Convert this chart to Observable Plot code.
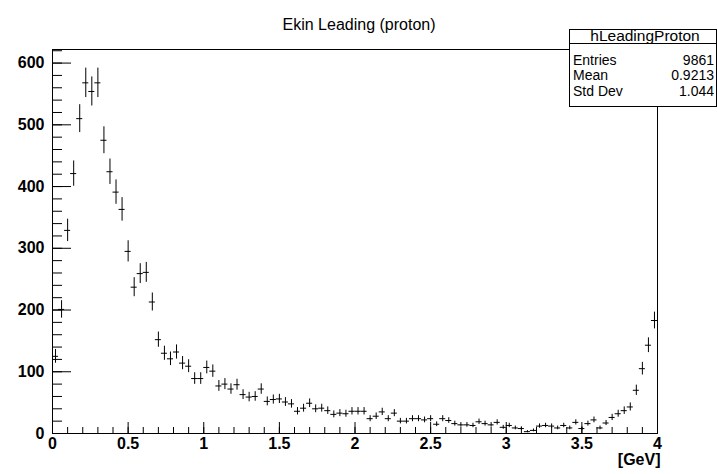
<!DOCTYPE html>
<html><head><meta charset="utf-8">
<script src="https://cdn.jsdelivr.net/npm/d3@7"></script>
<script src="https://cdn.jsdelivr.net/npm/@observablehq/plot@0.6"></script>
<style>
body{margin:0;background:#fff;}
svg{font-family:"Liberation Sans",Arial,Helvetica,sans-serif;}
</style>
</head><body><div id="chart"></div>
<script>
// Histogram hLeadingProton: 100 bins from 0 to 4 GeV
const title = "Ekin Leading (proton)";
const histName = "hLeadingProton";
const xMin = 0, xMax = 4, nBins = 100;
const counts = [
  125, 201, 329, 421, 510, 568, 554, 568, 475, 424,
  391, 363, 295, 237, 259, 261, 213, 152, 130, 121,
  132, 114, 109, 89, 89, 107, 101, 77, 80, 72,
  79, 63, 59, 60, 72, 52, 55, 56, 51, 48,
  36, 41, 49, 40, 41, 37, 31, 33, 32, 36,
  36, 36, 24, 28, 35, 24, 33, 20, 20, 24,
  24, 22, 24, 15, 24, 21, 16, 14, 14, 13,
  19, 16, 14, 18, 10, 13, 9, 8, 3, 5,
  12, 13, 12, 9, 13, 9, 18, 8, 16, 22,
  9, 17, 26, 32, 37, 43, 70, 105, 143, 183
];
const yMaxAxis = 622;
const yTicks = [0, 100, 200, 300, 400, 500, 600];
const yMinorTicks = [0,20,40,60,80,100,120,140,160,180,200,220,240,260,280,300,320,340,360,380,400,420,440,460,480,500,520,540,560,580,600,620];
const xTicks = [0, 0.5, 1, 1.5, 2, 2.5, 3, 3.5, 4];
const xTickLabels = ["0", "0.5", "1", "1.5", "2", "2.5", "3", "3.5", "4"];
const xMinorTicks = [0,0.1,0.2,0.3,0.4,0.5,0.6,0.7,0.8,0.9,1,1.1,1.2,1.3,1.4,1.5,1.6,1.7,1.8,1.9,2,2.1,2.2,2.3,2.4,2.5,2.6,2.7,2.8,2.9,3,3.1,3.2,3.3,3.4,3.5,3.6,3.7,3.8,3.9,4];
const xUnit = "[GeV]";
const statNames = ["Entries", "Mean", "Std Dev"];
const statValues = ["9861", "0.9213", "1.044"];

const binW = (xMax - xMin) / nBins;
const rows = counts.map((n, i) => ({
  lo: xMin + i * binW,
  hi: xMin + (i + 1) * binW,
  c: xMin + (i + 0.5) * binW,
  n,
  e: Math.sqrt(n)
}));

const plot = Plot.plot({
  width: 717,
  height: 474,
  marginLeft: 52,
  marginRight: 60,
  marginTop: 49,
  marginBottom: 41,
  style: {fontSize: "16px", fontWeight: "bold", background: "#fff", color: "#000"},
  x: {domain: [xMin, xMax]},
  y: {domain: [0, yMaxAxis]},
  marks: [
    Plot.ruleY(rows, {y: "n", x1: "lo", x2: "hi", stroke: "#000", strokeWidth: 1}),
    Plot.ruleX(rows, {x: "c", y1: d => d.n - d.e, y2: d => d.n + d.e, stroke: "#000", strokeWidth: 1}),
    Plot.axisY({anchor: "left", ticks: yMinorTicks, tickSize: -10, tickFormat: () => "", label: null}),
    Plot.axisY({anchor: "left", ticks: yTicks, tickSize: -19, tickPadding: 27, tickFormat: d => String(d), label: null, fontSize: 16, fontWeight: "bold"}),
    Plot.axisX({anchor: "bottom", ticks: xMinorTicks, tickSize: -6, tickFormat: () => "", label: null}),
    Plot.axisX({anchor: "bottom", ticks: xTicks, tickSize: -11, tickPadding: 15, tickFormat: d => xTickLabels[xTicks.indexOf(d)], label: null, fontSize: 16, fontWeight: "bold"}),
    Plot.frame({stroke: "#000", strokeWidth: 1}),
    Plot.text([title], {frameAnchor: "top", dx: 4, dy: -31, fontSize: 16, fontWeight: "normal"}),
    Plot.text([xUnit], {frameAnchor: "bottom-right", dx: 3, dy: 31, textAnchor: "end", fontSize: 16, fontWeight: "bold"})
  ]
});

document.getElementById("chart").appendChild(plot);

// statistics box (ROOT style)
const svg = d3.select(plot);
const box = svg.append("g").attr("font-weight", "normal").attr("font-size", 14);
box.append("rect").attr("x", 569.5).attr("y", 29.5).attr("width", 147).attr("height", 77)
  .attr("fill", "#fff").attr("stroke", "#000");
box.append("line").attr("x1", 569.5).attr("x2", 716.5).attr("y1", 43.5).attr("y2", 43.5).attr("stroke", "#000");
box.append("text").attr("x", 645).attr("y", 41).attr("text-anchor", "middle").attr("font-size", 15.5).text(histName);
statNames.forEach((s, i) => {
  box.append("text").attr("x", 573).attr("y", 64.5 + i * 15.7).attr("text-anchor", "start").text(s);
  box.append("text").attr("x", 714).attr("y", 64.5 + i * 15.7).attr("text-anchor", "end").text(statValues[i]);
});
</script>
</body></html>
